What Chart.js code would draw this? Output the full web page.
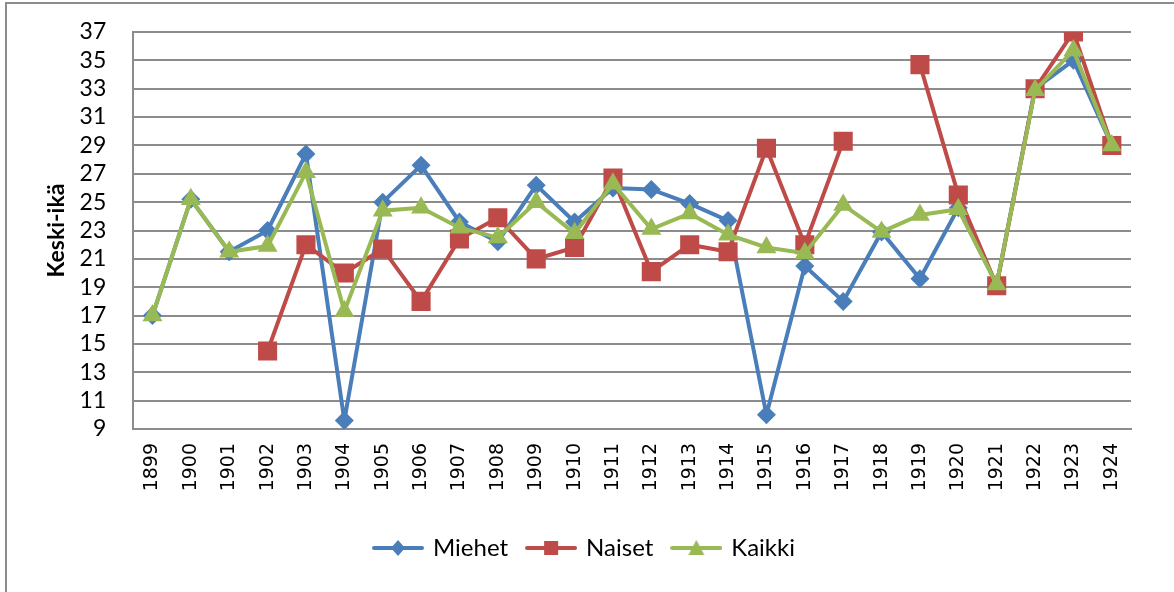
<!DOCTYPE html>
<html>
<head>
<meta charset="utf-8">
<script src="https://cdn.jsdelivr.net/npm/chart.js@4.4.1/dist/chart.umd.min.js"></script>
<style>
  html, body { margin: 0; padding: 0; background: #fff; }
  #frame { position: absolute; left: 5px; top: 2px; width: 1220px; height: 640px; border: 2px solid #8c8c8c; }
  #wrap { position: absolute; left: 0; top: 0; width: 1174px; height: 592px; }
</style>
</head>
<body>
<div id="frame"></div>
<div id="wrap"><canvas id="chart" width="1174" height="592"></canvas></div>
<script>
// ----------------- Data -----------------
const years = ['1899','1900','1901','1902','1903','1904','1905','1906','1907','1908','1909','1910','1911',
               '1912','1913','1914','1915','1916','1917','1918','1919','1920','1921','1922','1923','1924'];
const miehet = [17.0, 25.2, 21.5, 23.0, 28.4, 9.6, 25.0, 27.6, 23.6, 22.2, 26.2, 23.6, 26.0,
                25.9, 24.9, 23.7, 10.0, 20.5, 18.0, 22.9, 19.6, 24.6, 19.2, 33.0, 35.0, 29.0];
const naiset = [null, null, null, 14.5, 22.0, 20.0, 21.7, 18.0, 22.4, 23.9, 21.0, 21.8, 26.7,
                20.1, 22.0, 21.5, 28.8, 22.0, 29.3, null, 34.7, 25.5, 19.1, 33.0, 37.0, 29.0];
const kaikki = [17.0, 25.2, 21.5, 21.9, 27.1, 17.3, 24.4, 24.6, 23.2, 22.5, 25.0, 22.8, 26.3,
                23.1, 24.2, 22.7, 21.8, 21.4, 24.8, 22.9, 24.1, 24.5, 19.2, 32.9, 35.7, 29.0];
const seriesNames = ['Miehet', 'Naiset', 'Kaikki'];
const seriesColors = ['#4a7ebb', '#be4b48', '#98b954'];
const seriesMarkers = ['rectRot', 'rect', 'triangle'];
const yTitle = 'Keski-ikä';

Chart.defaults.color = '#000';
Chart.defaults.font.family = 'Lato, "Open Sans", sans-serif';

// legend swatch: line with marker in the middle
function legendSwatch(color, marker) {
  const c = document.createElement('canvas');
  c.width = 52; c.height = 22;
  const g = c.getContext('2d');
  g.strokeStyle = color; g.lineWidth = 4; g.lineCap = 'round';
  g.beginPath(); g.moveTo(2, 11); g.lineTo(50, 11); g.stroke();
  g.fillStyle = color;
  g.beginPath();
  if (marker === 'rectRot') {
    g.moveTo(26, 3); g.lineTo(33, 11); g.lineTo(26, 19); g.lineTo(19, 11);
  } else if (marker === 'rect') {
    g.rect(19, 4, 14, 14);
  } else {
    g.moveTo(26, 3); g.lineTo(34, 18); g.lineTo(18, 18);
  }
  g.closePath(); g.fill();
  return c;
}

const values = [miehet, naiset, kaikki];
const radii = [9.5, 13.5, 11.5];
const datasets = seriesNames.map((name, i) => ({
  label: name,
  data: values[i],
  borderColor: seriesColors[i],
  backgroundColor: seriesColors[i],
  borderWidth: 4,
  pointStyle: seriesMarkers[i],
  pointRadius: radii[i],
  pointHoverRadius: radii[i],
  pointBorderWidth: 0,
  tension: 0,
  spanGaps: false,
  order: 3 - i
}));

new Chart(document.getElementById('chart'), {
  type: 'line',
  data: { labels: years, datasets: datasets },
  options: {
    responsive: false,
    animation: false,
    layout: { padding: { left: 39, right: 43, top: 2, bottom: 22 } },
    plugins: {
      tooltip: { enabled: false },
      legend: {
        position: 'bottom',
        labels: {
          usePointStyle: true,
          pointStyleWidth: 46,
          padding: 20,
          font: { size: 24 },
          generateLabels: () => seriesNames.map((name, i) => ({
            text: name,
            fillStyle: seriesColors[i],
            strokeStyle: seriesColors[i],
            lineWidth: 0,
            pointStyle: legendSwatch(seriesColors[i], seriesMarkers[i]),
            hidden: false,
            datasetIndex: i,
            fontColor: '#000'
          }))
        }
      }
    },
    scales: {
      x: {
        offset: true,
        grid: { display: false, drawTicks: false },
        border: { display: true, color: '#8c8c8c', width: 2 },
        ticks: { minRotation: 90, maxRotation: 90, padding: 14, autoSkip: false,
                 font: { family: '"DejaVu Sans"', size: 19 } },
        afterFit: s => { s.height = 87; }
      },
      y: {
        min: 9, max: 37,
        grid: { color: '#8c8c8c', lineWidth: 2, drawTicks: false },
        border: { display: true, color: '#8c8c8c', width: 2 },
        ticks: { stepSize: 2, padding: 27, autoSkip: false, font: { size: 23 } },
        title: { display: true, text: yTitle, padding: { top: 4, bottom: -18 },
                 font: { size: 23, weight: 'bold' } },
        afterFit: s => { s.paddingTop = 32; s.paddingBottom = 14; }
      }
    }
  }
});
</script>
</body>
</html>
